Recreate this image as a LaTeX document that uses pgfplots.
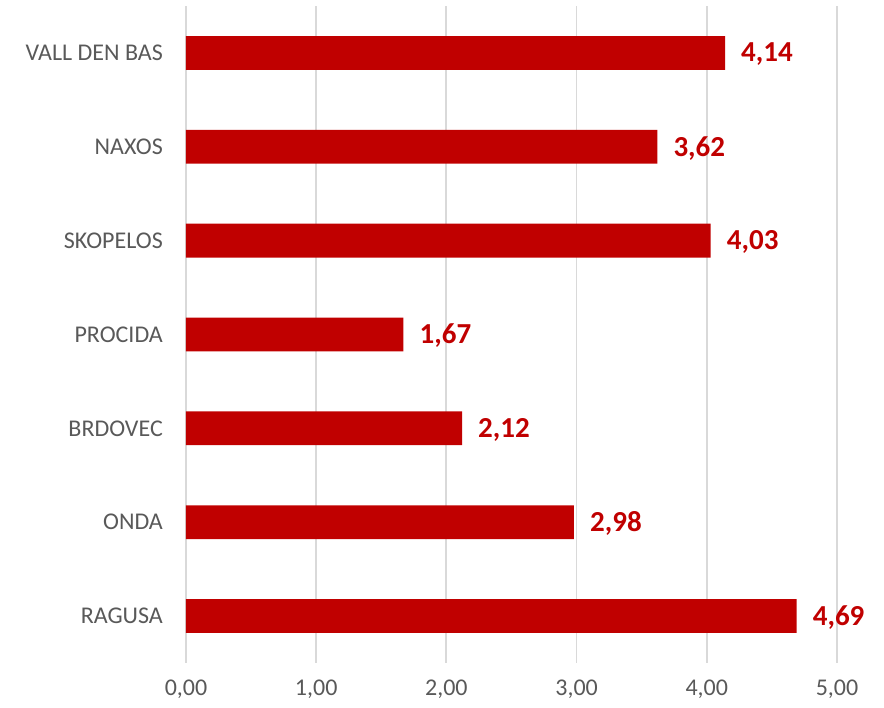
\documentclass[border=0pt]{standalone}
\usepackage{pgfplots}
\pgfplotsset{compat=1.18}
\usepackage{fontspec}
\setmainfont{Carlito}
\definecolor{barred}{HTML}{C00000}
\definecolor{txtgray}{HTML}{595959}
\definecolor{gridgray}{HTML}{D9D9D9}
\begin{document}
\begin{tikzpicture}
\path[use as bounding box] (0,0) rectangle (884pt,708pt);
\begin{axis}[
  at={(186pt,45pt)}, anchor=south west,
  scale only axis, width=651pt, height=657pt,
  xbar, bar width=0.36,
  xmin=0, xmax=5, ymin=-0.5, ymax=6.5,
  xtick={0,1,2,3,4,5},
  ytick={0,1,2,3,4,5,6},
  yticklabels={RAGUSA,ONDA,BRDOVEC,PROCIDA,SKOPELOS,NAXOS,VALL DEN BAS},
  axis line style={draw=none},
  major tick length=0pt,
  xmajorgrids, grid style={gridgray, line width=1.8pt},
  /pgf/number format/.cd, fixed, fixed zerofill, precision=2, use comma, assume math mode=true,
  /pgfplots/.cd,
  xticklabel style={font=\fontsize{24}{28}\selectfont, text=txtgray, anchor=north, inner sep=0pt, yshift=-17pt},
  yticklabel style={font=\fontsize{24}{28}\selectfont, text=txtgray, anchor=east, inner sep=0pt, xshift=-23pt},
  nodes near coords,
  nodes near coords style={anchor=west, inner sep=0pt, xshift=16pt, yshift=-1.5pt, font=\fontsize{29}{30}\selectfont\bfseries, text=barred},
]
\addplot[draw=none, fill=barred] coordinates {
  (4.69,0) (2.98,1) (2.12,2) (1.67,3) (4.03,4) (3.62,5) (4.14,6)
};
\end{axis}
\end{tikzpicture}
\end{document}
